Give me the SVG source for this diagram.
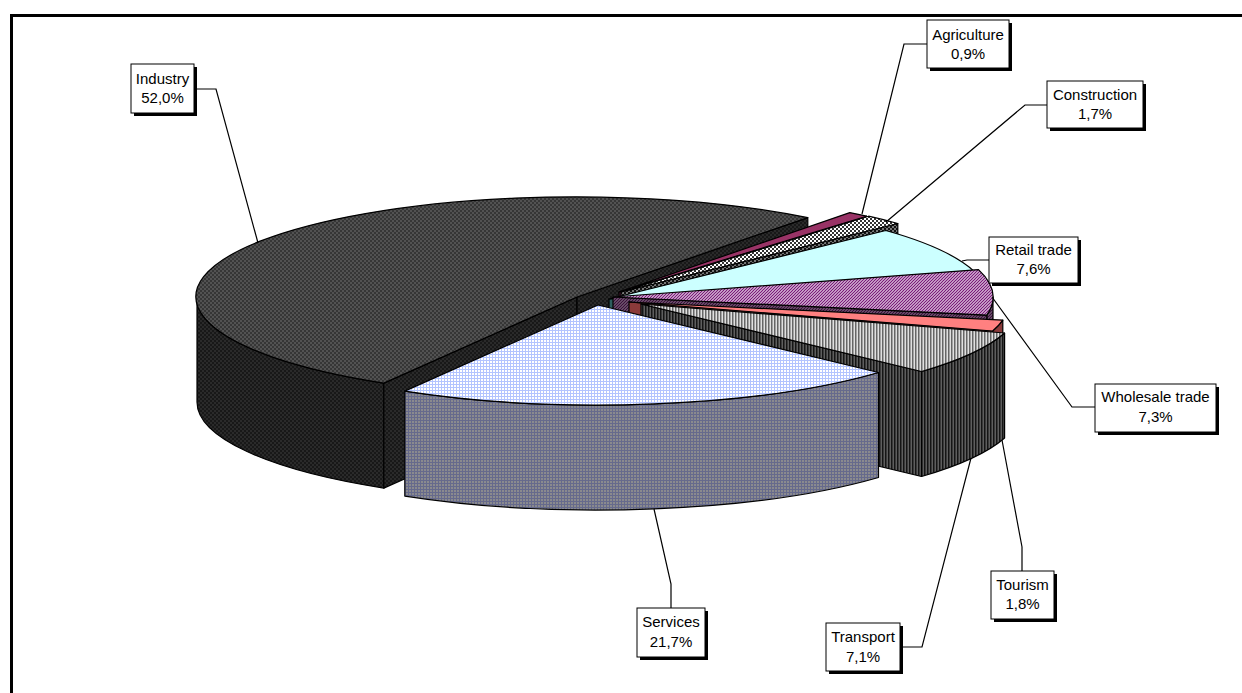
<svg xmlns="http://www.w3.org/2000/svg" width="1242" height="693" viewBox="0 0 1242 693">
<style>
.e{stroke:#000;stroke-width:1.2;stroke-linejoin:round}
.lbl text{font-family:"Liberation Sans",Arial,sans-serif;font-size:15px;text-anchor:middle;fill:#000}
.box{fill:#fff;stroke:#000;stroke-width:1}
.sh{fill:#000}
.ld{fill:none;stroke:#000;stroke-width:1.2}
</style>
<defs>
<pattern id="pInd" width="4" height="4" patternUnits="userSpaceOnUse"><rect width="4" height="4" fill="#363636"/><rect width="2" height="2" fill="#525252"/><rect x="2" y="2" width="2" height="2" fill="#525252"/></pattern>
<pattern id="pIndS" width="4" height="4" patternUnits="userSpaceOnUse"><rect width="4" height="4" fill="#181818"/><rect width="2" height="2" fill="#2a2a2a"/><rect x="2" y="2" width="2" height="2" fill="#2a2a2a"/></pattern>
<pattern id="pSrvT" width="3" height="3" patternUnits="userSpaceOnUse"><rect width="3" height="3" fill="#fff"/><path d="M0 0.5H3M0.5 0V3" stroke="#b3c4ff" stroke-width="1"/></pattern>
<pattern id="pSrvS" width="3" height="3" patternUnits="userSpaceOnUse"><rect width="3" height="3" fill="#8a8a8e"/><path d="M0 0.5H3M0.5 0V3" stroke="#666a8c" stroke-width="1"/></pattern>
<pattern id="pTrT" width="3" height="3" patternUnits="userSpaceOnUse"><rect width="3" height="3" fill="#e0e0e0"/><rect width="1.5" height="3" fill="#666"/></pattern>
<pattern id="pTrS" width="3" height="3" patternUnits="userSpaceOnUse"><rect width="3" height="3" fill="#5e5e5e"/><rect width="1.5" height="3" fill="#151515"/></pattern>
<pattern id="pWh" width="3" height="3" patternUnits="userSpaceOnUse"><rect width="3" height="3" fill="#fff"/><path d="M-1 1L1 -1M0 3L3 0M2 4L4 2" stroke="#7a1a7a" stroke-width="1.3"/></pattern>
<pattern id="pWhS" width="3" height="3" patternUnits="userSpaceOnUse"><rect width="3" height="3" fill="#8a7a8a"/><path d="M-1 1L1 -1M0 3L3 0M2 4L4 2" stroke="#3a0f3a" stroke-width="1.3"/></pattern>
<pattern id="pCon" width="4" height="4" patternUnits="userSpaceOnUse"><rect width="4" height="4" fill="#fff"/><rect width="2" height="2" fill="#333"/><rect x="2" y="2" width="2" height="2" fill="#333"/></pattern>
<pattern id="pConS" width="4" height="4" patternUnits="userSpaceOnUse"><rect width="4" height="4" fill="#777"/><rect width="2" height="2" fill="#111"/><rect x="2" y="2" width="2" height="2" fill="#111"/></pattern>
</defs>
<rect width="1242" height="693" fill="#fff"/>
<path d="M11.5 693V15.5H1242" fill="none" stroke="#000" stroke-width="3"/>

<g id="industry">
<path class="e" fill="url(#pIndS)" d="M383.8,383.1 A380,100 0 0 1 197,297 L197,402 A380,100 0 0 0 383.8,488.1 Z"/>
<path class="e" fill="url(#pIndS)" d="M577,297 L383.8,383.1 L383.8,488.1 L577,402 Z"/>
<path class="e" fill="url(#pIndS)" d="M577,297 L807.8,217.6 L807.8,322.6 L577,402 Z"/>
<path class="e" fill="url(#pInd)" d="M577,297 L383.8,383.1 A380,100 0 1 1 807.8,217.6 Z"/>
</g>
<g id="agriculture">
<path class="e" fill="#5a1f3f" d="M619,292 L866.6,216.2 L866.6,321.2 L619,397 Z"/>
<path class="e" fill="#993366" d="M619,292 L849.8,212.6 A380,100 0 0 1 866.6,216.2 Z"/>
</g>
<g id="construction">
<path class="e" fill="url(#pConS)" d="M621,292 L897.8,223.5 L897.8,328.5 L621,397 Z"/>
<path class="e" fill="url(#pCon)" d="M621,292 L868.6,216.2 A380,100 0 0 1 897.8,223.5 Z"/>
</g>
<g id="retail">
<path class="e" fill="#2e5e5e" d="M609,299 L974.5,271.6 L974.5,376.6 L609,404 Z"/>
<path class="e" fill="#ccffff" d="M609,299 L885.8,230.5 A380,100 0 0 1 974.5,271.6 Z"/>
</g>
<g id="wholesale">
<path class="e" fill="url(#pWhS)" d="M993,297 A380,100 0 0 1 986.8,315.1 L986.8,420.1 A380,100 0 0 0 993,402 Z"/>
<path class="e" fill="url(#pWhS)" d="M613,297 L986.8,315.1 L986.8,420.1 L613,402 Z"/>
<path class="e" fill="url(#pWh)" d="M613,297 L978.5,269.6 A380,100 0 0 1 986.8,315.1 Z"/>
</g>
<g id="tourism">
<path class="e" fill="#8a3a3a" d="M1002.8,320.1 A380,100 0 0 1 992.6,331 L992.6,436 A380,100 0 0 0 1002.8,425.1 Z"/>
<path class="e" fill="#8a3a3a" d="M629,302 L992.6,331 L992.6,436 L629,407 Z"/>
<path class="e" fill="#ff8080" d="M629,302 L1002.8,320.1 A380,100 0 0 1 992.6,331 Z"/>
</g>
<g id="transport">
<path class="e" fill="url(#pTrS)" d="M1004.6,333 A380,100 0 0 1 921.5,371.5 L921.5,476.5 A380,100 0 0 0 1004.6,438 Z"/>
<path class="e" fill="url(#pTrS)" d="M641,304 L921.5,371.5 L921.5,476.5 L641,409 Z"/>
<path class="e" fill="url(#pTrT)" d="M641,304 L1004.6,333 A380,100 0 0 1 921.5,371.5 Z"/>
</g>
<g id="services">
<path class="e" fill="url(#pSrvS)" d="M878.5,372.5 A380,100 0 0 1 404.8,391.1 L404.8,496.1 A380,100 0 0 0 878.5,477.5 Z"/>
<path class="e" fill="url(#pSrvT)" d="M598,305 L878.5,372.5 A380,100 0 0 1 404.8,391.1 Z"/>
</g>

<g id="connectors">
<path class="ld" d="M194,89 H216 L258,243"/>
<path class="ld" d="M927,44 H904 L862,214"/>
<path class="ld" d="M1047,105 H1025 L886,222"/>
<path class="ld" d="M989,260 H967 L962,261"/>
<path class="ld" d="M1095,407 H1072 L992,297"/>
<path class="ld" d="M1022,571 V547 L1002,440"/>
<path class="ld" d="M900,647 H922 L971,458"/>
<path class="ld" d="M671,608 V584 L654,509"/>
</g>

<g id="label-industry" class="lbl">
<rect class="sh" x="134" y="67" width="63" height="49"/>
<rect class="box" x="131" y="64" width="63" height="49"/>
<text x="162.5" y="84">Industry</text><text x="162.5" y="103">52,0%</text>
</g>
<g id="label-agriculture" class="lbl">
<rect class="sh" x="930" y="23" width="82" height="48"/>
<rect class="box" x="927" y="20" width="82" height="48"/>
<text x="968" y="40">Agriculture</text><text x="968" y="59">0,9%</text>
</g>
<g id="label-construction" class="lbl">
<rect class="sh" x="1050" y="84" width="96" height="47"/>
<rect class="box" x="1047" y="81" width="96" height="47"/>
<text x="1095" y="100">Construction</text><text x="1095" y="119">1,7%</text>
</g>
<g id="label-retail" class="lbl">
<rect class="sh" x="992" y="240" width="89" height="46"/>
<rect class="box" x="989" y="237" width="89" height="46"/>
<text x="1033.5" y="255">Retail trade</text><text x="1033.5" y="274">7,6%</text>
</g>
<g id="label-wholesale" class="lbl">
<rect class="sh" x="1098" y="387" width="121" height="48"/>
<rect class="box" x="1095" y="384" width="121" height="48"/>
<text x="1155.5" y="402">Wholesale trade</text><text x="1155.5" y="422">7,3%</text>
</g>
<g id="label-tourism" class="lbl">
<rect class="sh" x="994" y="574" width="63" height="48"/>
<rect class="box" x="991" y="571" width="63" height="48"/>
<text x="1022.5" y="590">Tourism</text><text x="1022.5" y="609">1,8%</text>
</g>
<g id="label-transport" class="lbl">
<rect class="sh" x="829" y="626" width="74" height="48"/>
<rect class="box" x="826" y="623" width="74" height="48"/>
<text x="863" y="642">Transport</text><text x="863" y="662">7,1%</text>
</g>
<g id="label-services" class="lbl">
<rect class="sh" x="640" y="611" width="68" height="49"/>
<rect class="box" x="637" y="608" width="68" height="49"/>
<text x="671" y="627">Services</text><text x="671" y="647">21,7%</text>
</g>
</svg>
